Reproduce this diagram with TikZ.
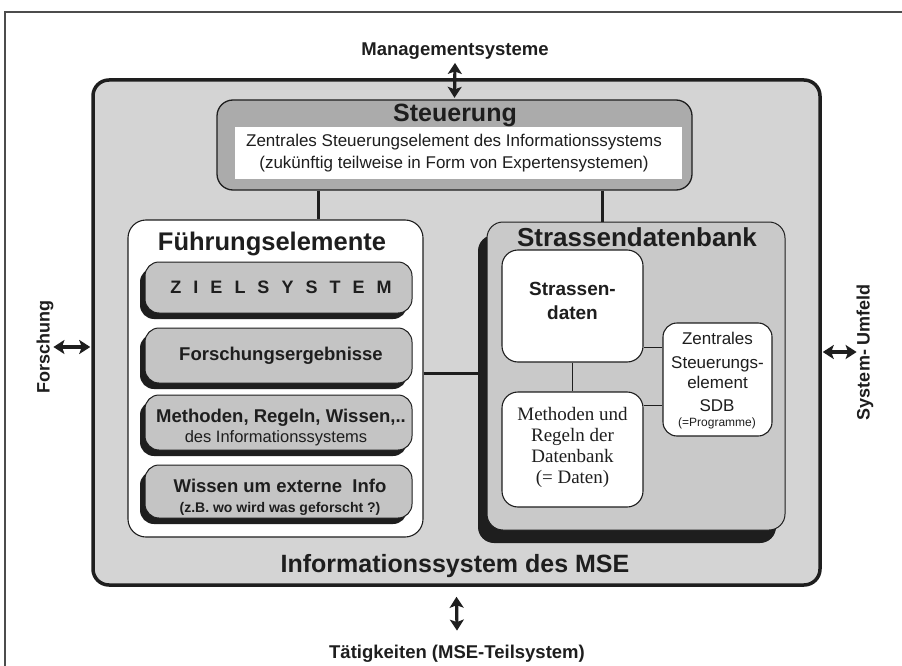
\documentclass[tikz,border=0pt]{standalone}
\usepackage{fontspec}
\setmainfont{Liberation Sans}
\newfontfamily\seriffont{Liberation Serif}
\usetikzlibrary{arrows.meta}
\definecolor{mainfill}{HTML}{D4D4D4}
\definecolor{steufill}{HTML}{ABABAB}
\definecolor{boxfill}{HTML}{C4C4C4}
\definecolor{sdbfill}{HTML}{C9C9C9}
\definecolor{ink}{HTML}{1E1E1E}
\newcommand\fs[1]{\fontsize{#1}{#1}\selectfont}
\begin{document}
\begin{tikzpicture}[x=1pt,y=-1pt,
  txt/.style={inner sep=0pt, outer sep=0pt, text=ink, anchor=base},
  rtxt/.style={inner sep=0pt, outer sep=0pt, text=ink, rotate=90},
  arr/.style={line width=3.2pt, draw=ink, {Stealth[length=11pt,width=14pt,inset=2.5pt]}-{Stealth[length=11pt,width=14pt,inset=2.5pt]}},
  conn/.style={line width=3pt, draw=ink},
  thinconn/.style={line width=1pt, draw=ink},
  mainbox/.style={draw=ink, line width=3.5pt, fill=mainfill, rounded corners=16pt, inner sep=0pt},
  steubox/.style={draw=ink, line width=1.3pt, fill=steufill, rounded corners=16pt, inner sep=0pt},
  whitebox/.style={draw=ink, line width=1.1pt, fill=white, rounded corners=16pt, inner sep=0pt},
  ibox/.style={draw=ink, line width=1pt, fill=boxfill, rounded corners=14pt, minimum width=267pt, inner sep=0pt},
  ishadow/.style={fill=ink, rounded corners=14pt, minimum width=267pt, inner sep=0pt},
  sdbbox/.style={draw=ink, line width=1pt, fill=sdbfill, rounded corners=16pt, inner sep=0pt},
  sdbshadow/.style={fill=ink, rounded corners=16pt, inner sep=0pt},
]
\useasboundingbox (0,0) rectangle (902,666);
\fill[white] (0,0) rectangle (902,666);
% outer frame
\draw[line width=1.1pt, black!70] (5,666) -- (5,12) -- (902,12);

% main box
\node[mainbox, minimum width=727pt, minimum height=505pt] (main) at (456.5,332.5) {};

% Steuerung
\node[steubox, minimum width=475pt, minimum height=90pt] (steu) at (454.5,145) {};
\node[fill=white, minimum width=447pt, minimum height=52pt, inner sep=0pt] (steuw) at (458.5,153) {};
\node[txt, font=\fs{25}\bfseries] (steut) at (455,122) {Steuerung};
\node[txt, font=\fs{17}] (st1) at (454,146.5) {Zentrales Steuerungselement des Informationssystems};
\node[txt, font=\fs{17}] (st2) at (454,168.5) {(zukünftig teilweise in Form von Expertensystemen)};

% Fuehrungselemente
\node[whitebox, rounded corners=18pt, minimum width=295pt, minimum height=317pt] (fuehr) at (275.5,378.5) {};
\node[txt, font=\fs{25.5}\bfseries] (fuehrt) at (272,250) {Führungselemente};

\node[ishadow, minimum height=51pt] (zssh) at (273.5,293.5) {};
\node[ibox, minimum height=51pt] (zs) at (278.5,287.5) {};
\node[txt, font=\fs{18}\bfseries] (zst) at (281,293) {Z\hspace{12pt}I\hspace{12pt}E\hspace{12pt}L\hspace{12pt}S\hspace{12pt}Y\hspace{12pt}S\hspace{12pt}T\hspace{12pt}E\hspace{12pt}M};

\node[ishadow, minimum height=55pt] (fesh) at (273.5,361.5) {};
\node[ibox, minimum height=55pt] (fe) at (278.5,355.5) {};
\node[txt, font=\fs{18.5}\bfseries] (fet) at (281,360) {Forschungsergebnisse};

\node[ishadow, minimum height=55pt] (mrsh) at (273.5,428.5) {};
\node[ibox, minimum height=55pt] (mr) at (278.5,422.5) {};
\node[txt, font=\fs{18.5}\bfseries] (mrt1) at (281,422.5) {Methoden, Regeln, Wissen,..};
\node[txt, font=\fs{16.5}] (mrt2) at (276,442) {des Informationssystems};

\node[ishadow, minimum height=53pt] (wesh) at (273.5,497.5) {};
\node[ibox, minimum height=53pt] (we) at (278.5,491.5) {};
\node[txt, font=\fs{18.5}\bfseries] (wet1) at (280,492) {Wissen um externe\ \ Info};
\node[txt, font=\fs{14}\bfseries] (wet2) at (280,512) {(z.B. wo wird was geforscht ?)};

% Strassendatenbank
\node[sdbshadow, minimum width=298pt, minimum height=308pt] (sdbsh) at (627,389) {};
\node[sdbbox, minimum width=298pt, minimum height=308pt] (sdb) at (636,376) {};
\node[txt, font=\fs{26}\bfseries] (sdbt) at (637,246.5) {Strassendatenbank};

\node[whitebox, minimum width=141pt, minimum height=112pt] (sd) at (572.5,306) {};
\node[txt, font=\fs{19}\bfseries] (sdt1) at (572.5,295) {Strassen-};
\node[txt, font=\fs{19}\bfseries] (sdt2) at (572.5,319) {daten};

\node[whitebox, minimum width=141pt, minimum height=115pt] (mrd) at (572.5,449.5) {};
\node[txt, font=\seriffont\fs{19}] (mrd1) at (572.5,420) {Methoden und};
\node[txt, font=\seriffont\fs{19}] (mrd2) at (572.5,441.5) {Regeln der};
\node[txt, font=\seriffont\fs{19}] (mrd3) at (572.5,462) {Datenbank};
\node[txt, font=\seriffont\fs{19}] (mrd4) at (572.5,483) {(= Daten)};

\node[whitebox, rounded corners=14pt, minimum width=109pt, minimum height=113pt] (zse) at (717.5,379.5) {};
\node[txt, font=\fs{17}] (zse1) at (717.5,344) {Zentrales};
\node[txt, font=\fs{17}] (zse2) at (717.5,368) {Steuerungs-};
\node[txt, font=\fs{17}] (zse3) at (717.5,388.5) {element};
\node[txt, font=\fs{17}] (zse4) at (717,411.5) {SDB};
\node[txt, font=\fs{12}] (zse5) at (717,426) {(=Programme)};

% connectors
\coordinate (cx1) at (318,0);
\coordinate (cx2) at (602,0);
\coordinate (hy) at (0,373);
\coordinate (h1) at (0,347);
\coordinate (h2) at (0,405);
\draw[conn] (steu.south -| cx1) -- (fuehr.north -| cx1);
\draw[conn] (steu.south -| cx2) -- (sdb.north -| cx2);
\draw[conn] (fuehr.east |- hy) -- (sdbsh.west |- hy);
\draw[thinconn] (sd.south) -- (mrd.north);
\draw[thinconn] (sd.east |- h1) -- (zse.west |- h1);
\draw[thinconn] (mrd.east |- h2) -- (zse.west |- h2);

% bottom title
\node[txt, font=\fs{25}\bfseries] (maint) at (455,572) {Informationssystem des MSE};

% outside labels and arrows
\node[txt, font=\fs{18.5}\bfseries] (mgmt) at (455,56) {Managementsysteme};
\node[txt, font=\fs{18.5}\bfseries] (taet) at (457,658) {Tätigkeiten (MSE-Teilsystem)};
\node[rtxt, font=\fs{18}\bfseries] (forsch) at (45,347) {Forschung};
\node[rtxt, font=\fs{18}\bfseries] (sysum) at (865,352) {System- Umfeld};

\draw[arr] ([yshift=-3pt]mgmt.south) -- ([yshift=1.5pt]steu.north);
\draw[arr] ([yshift=-10pt]main.south) -- ([yshift=14pt]taet.north);
\draw[arr, shorten >=1pt] (forsch.south) -- (main.west |- forsch.south);
\draw[arr, shorten <=1pt] (main.east |- sysum.north) -- (sysum.north);
\end{tikzpicture}
\end{document}
